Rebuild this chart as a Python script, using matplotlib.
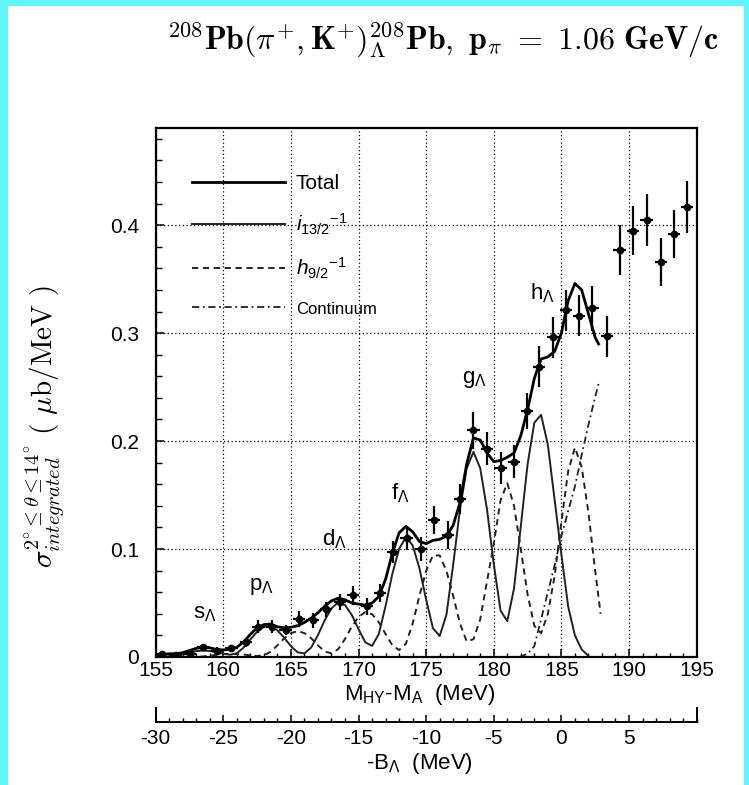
import matplotlib
matplotlib.use('Agg')
import matplotlib.pyplot as plt
from matplotlib.patches import Rectangle
from matplotlib.ticker import MultipleLocator, FixedLocator, FixedFormatter

plt.rcParams['font.family'] = ['Liberation Sans', 'DejaVu Sans']
plt.rcParams['mathtext.fontset'] = 'custom'
plt.rcParams['mathtext.rm'] = 'Liberation Sans'
plt.rcParams['mathtext.it'] = 'Liberation Sans:italic'
plt.rcParams['mathtext.bf'] = 'Liberation Sans:bold'
plt.rcParams['axes.unicode_minus'] = False

# ---------------- data ----------------
# measured points: M_HY - M_A (MeV), cross section (ub/MeV), error
exp_x = [155.5, 156.5, 157.5, 158.5, 159.55, 160.6, 161.65, 162.6, 163.6, 164.6,
         165.6, 166.6, 167.6, 168.6, 169.6, 170.6, 171.6, 172.55, 173.55, 174.6,
         175.6, 176.6, 177.5, 178.5, 179.5, 180.5, 181.5, 182.45, 183.35, 184.35,
         185.35, 186.3, 187.3, 188.35, 189.3, 190.3, 191.3, 192.35, 193.3, 194.3]
exp_y = [0.003, 0.002, 0.003, 0.009, 0.006, 0.008, 0.0136, 0.028, 0.028, 0.025,
         0.0355, 0.034, 0.044, 0.051, 0.057, 0.047, 0.0595, 0.0975, 0.110, 0.0997,
         0.127, 0.113, 0.146, 0.210, 0.193, 0.175, 0.181, 0.228, 0.269, 0.296,
         0.321, 0.316, 0.323, 0.297, 0.377, 0.395, 0.405, 0.366, 0.392, 0.417]
exp_err = [0.002, 0.002, 0.002, 0.003, 0.003, 0.003, 0.004, 0.006, 0.006, 0.005,
           0.0075, 0.0072, 0.007, 0.0075, 0.0085, 0.0078, 0.0083, 0.010, 0.011, 0.011,
           0.013, 0.013, 0.014, 0.017, 0.015, 0.015, 0.015, 0.017, 0.019, 0.019,
           0.019, 0.019, 0.021, 0.019, 0.023, 0.023, 0.024, 0.022, 0.022, 0.024]
bin_halfwidth = 0.45

# theory curves
total_x = [155.0, 155.5, 156.0, 156.5, 157.0, 157.5, 158.0, 158.5, 159.0, 159.5,
           160.0, 160.5, 161.0, 161.5, 162.0, 162.5, 163.0, 163.5, 164.0, 164.5,
           165.0, 165.5, 166.0, 166.5, 167.0, 167.5, 168.0, 168.5, 169.0, 169.5,
           170.0, 170.5, 171.0, 171.5, 172.0, 172.5, 173.0, 173.5, 174.0, 174.5,
           175.0, 175.5, 176.0, 176.5, 177.0, 177.5, 178.0, 178.5, 179.0, 179.5,
           180.0, 180.5, 181.0, 181.5, 182.0, 182.5, 183.0, 183.5, 184.0, 184.5,
           185.0, 185.5, 186.0, 186.5, 187.0, 187.5, 187.75]
total_y = [0.001, 0.002, 0.003, 0.003, 0.004, 0.006, 0.008, 0.009, 0.0085, 0.007,
           0.0065, 0.007, 0.009, 0.014, 0.021, 0.027, 0.030, 0.0305, 0.028, 0.027,
           0.0275, 0.029, 0.032, 0.036, 0.041, 0.047, 0.052, 0.0545, 0.053, 0.050,
           0.049, 0.048, 0.050, 0.056, 0.072, 0.096, 0.115, 0.121, 0.116, 0.107,
           0.105, 0.108, 0.109, 0.112, 0.122, 0.143, 0.179, 0.203, 0.201, 0.189,
           0.181, 0.182, 0.185, 0.189, 0.205, 0.229, 0.258, 0.276, 0.278, 0.283,
           0.300, 0.330, 0.346, 0.340, 0.318, 0.296, 0.290]

i13_x = [155.0, 155.5, 156.0, 156.5, 157.0, 157.5, 158.0, 158.5, 159.0, 159.5,
         160.0, 160.5, 161.0, 161.5, 162.0, 162.5, 163.0, 163.5, 164.0, 164.5,
         165.0, 165.5, 166.0, 166.5, 167.0, 167.5, 168.0, 168.5, 169.0, 169.5,
         170.0, 170.5, 171.0, 171.5, 172.0, 172.5, 173.0, 173.5, 174.0, 174.5,
         175.0, 175.5, 176.0, 176.5, 177.0, 177.5, 178.0, 178.5, 179.0, 179.5,
         180.0, 180.5, 181.0, 181.5, 182.0, 182.5, 183.0, 183.5, 184.0, 184.5,
         185.0, 185.5, 186.0, 186.5, 187.0]
i13_y = [0.0, 0.0, 0.0003, 0.0011, 0.0025, 0.0042, 0.0054, 0.006, 0.0056, 0.0045,
         0.003, 0.0021, 0.0035, 0.0087, 0.0163, 0.0234, 0.0281, 0.0285, 0.0246, 0.0179,
         0.010, 0.0043, 0.0034, 0.0088, 0.0203, 0.0341, 0.0451, 0.0506, 0.0481, 0.039,
         0.0258, 0.0136, 0.0103, 0.0213, 0.0472, 0.077, 0.1001, 0.111, 0.1035, 0.0824,
         0.0531, 0.0268, 0.0194, 0.0393, 0.0856, 0.1368, 0.1748, 0.190, 0.1748, 0.1368,
         0.0862, 0.043, 0.0332, 0.0636, 0.1212, 0.1784, 0.217, 0.2243, 0.1966, 0.1457,
         0.095, 0.047, 0.020, 0.007, 0.001]

h9_x = [157.5, 158.0, 158.5, 159.0, 159.5, 160.0, 160.5, 161.0, 161.5, 162.0,
        162.5, 163.0, 163.5, 164.0, 164.5, 165.0, 165.5, 166.0, 166.5, 167.0,
        167.5, 168.0, 168.5, 169.0, 169.5, 170.0, 170.5, 171.0, 171.5, 172.0,
        172.5, 173.0, 173.5, 174.0, 174.5, 175.0, 175.5, 176.0, 176.5, 177.0,
        177.5, 178.0, 178.5, 179.0, 179.5, 180.0, 180.5, 181.0, 181.5, 182.0,
        182.5, 183.0, 183.5, 184.0, 184.5, 185.0, 185.5, 186.0, 186.5, 187.0,
        187.5, 187.9]
h9_y = [0.0, 0.0001, 0.0005, 0.0012, 0.002, 0.0027, 0.003, 0.0028, 0.0023, 0.0015,
        0.0009, 0.0017, 0.0048, 0.0108, 0.0173, 0.0221, 0.024, 0.0221, 0.0173, 0.0108,
        0.0051, 0.0034, 0.0073, 0.0167, 0.0281, 0.0371, 0.0417, 0.0396, 0.0321, 0.0213,
        0.0109, 0.0064, 0.0123, 0.0308, 0.0566, 0.0797, 0.0941, 0.0941, 0.0797, 0.0566,
        0.031, 0.0144, 0.0165, 0.035, 0.070, 0.105, 0.145, 0.161, 0.140, 0.100,
        0.058, 0.029, 0.022, 0.040, 0.075, 0.125, 0.172, 0.194, 0.176, 0.134,
        0.080, 0.040]

cont_x = [181.9, 182.5, 183.0, 183.5, 184.0, 184.5, 185.0, 185.5, 186.0, 186.5,
          187.0, 187.5, 187.75]
cont_y = [0.0, 0.003, 0.010, 0.035, 0.060, 0.085, 0.112, 0.135, 0.158, 0.187,
          0.215, 0.241, 0.253]

shell_labels = [r's$_{\Lambda}$', r'p$_{\Lambda}$', r'd$_{\Lambda}$',
                r'f$_{\Lambda}$', r'g$_{\Lambda}$', r'h$_{\Lambda}$']
shell_x = [158.6, 162.8, 168.2, 173.1, 178.6, 183.6]
shell_y = [0.040, 0.065, 0.109, 0.152, 0.257, 0.337]

legend_labels = ['Total', r'$i_{13/2}$$^{-1}$', r'$h_{9/2}$$^{-1}$', 'Continuum']

x_ticks = [155, 160, 165, 170, 175, 180, 185, 190, 195]
y_ticks = [0.0, 0.1, 0.2, 0.3, 0.4]
y_ticklabels = ['0', '0.1', '0.2', '0.3', '0.4']
b_ticks = [-30, -25, -20, -15, -10, -5, 0, 5]
b_ticklabels = ['-30', '-25', '-20', '-15', '-10', '-5', '0', '5']

# ---------------- figure ----------------
W_PX, H_PX = 749, 785
fig = plt.figure(figsize=(W_PX / 100, H_PX / 100), dpi=100)
fig.patch.set_facecolor('white')
cyan = '#5ff5fb'
fig.add_artist(Rectangle((0, 0), 8 / W_PX, 1, transform=fig.transFigure,
                         facecolor=cyan, edgecolor='none'))
fig.add_artist(Rectangle((0, 1 - 6 / H_PX), 1, 6 / H_PX, transform=fig.transFigure,
                         facecolor=cyan, edgecolor='none'))
fig.add_artist(Rectangle((1 - 5 / W_PX, 0), 5 / W_PX, 1, transform=fig.transFigure,
                         facecolor=cyan, edgecolor='none'))

L = 155.7 / W_PX
Wd = 540.9 / W_PX
B = 1 - 657 / H_PX
Ht = 529 / H_PX
ax = fig.add_axes([L, B, Wd, Ht])
ax.set_xlim(155, 195)
ax.set_ylim(0, 0.49)

dot = (0, (1, 2))
ax.grid(True, which='major', color='black', linestyle=dot, linewidth=0.9)
ax.set_axisbelow(True)

l_i13, = ax.plot(i13_x, i13_y, color='#222222', lw=1.4)
l_h9, = ax.plot(h9_x, h9_y, color='#222222', lw=1.4, linestyle=(0, (3.2, 2.4)))
l_cont, = ax.plot(cont_x, cont_y, color='#222222', lw=1.3,
                  linestyle=(0, (4, 2, 1, 2)))
l_tot, = ax.plot(total_x, total_y, color='black', lw=2.0)

ax.errorbar(exp_x, exp_y, yerr=exp_err, xerr=bin_halfwidth, fmt='o', ms=4.5,
            color='black', ecolor='black', elinewidth=1.6, capsize=0, zorder=5)

for lab, sx, sy in zip(shell_labels, shell_x, shell_y):
    ax.text(sx, sy, lab, fontsize=16, ha='center', va='center')

leg = ax.legend([l_tot, l_i13, l_h9, l_cont], legend_labels,
                loc='upper left', bbox_to_anchor=(0.047, 0.933),
                frameon=False, fontsize=15, handlelength=4.5,
                handletextpad=0.5, labelspacing=0.9, borderpad=0)
leg.get_texts()[3].set_fontsize(12)

for s in ax.spines.values():
    s.set_linewidth(1.6)

ax.set_xticks(x_ticks)
ax.xaxis.set_minor_locator(MultipleLocator(1))
ax.yaxis.set_major_locator(FixedLocator(y_ticks))
ax.yaxis.set_major_formatter(FixedFormatter(y_ticklabels))
ax.yaxis.set_minor_locator(MultipleLocator(0.02))
ax.tick_params(axis='x', which='major', direction='in', length=6, width=1.1,
               labelsize=15, pad=3)
ax.tick_params(axis='x', which='minor', direction='in', length=3, width=1)
ax.tick_params(axis='y', which='major', direction='in', length=6, width=1.1,
               labelsize=15, pad=12)
ax.tick_params(axis='y', which='minor', direction='in', length=4, width=1)

ax.set_xlabel(r'M$_{\mathrm{HY}}$-M$_{\mathrm{A}}$  (MeV)', fontsize=16, va='center')
ax.xaxis.set_label_coords(0.488, -0.07)
ax.set_ylabel(r'$\sigma^{2^{\circ}\leq\theta\leq14^{\circ}}_{integrated}\ (\ \mu\mathrm{b/MeV}\ )$',
              fontsize=21, math_fontfamily='cm', va='center')
ax.yaxis.set_label_coords(-0.205, 0.435)

# binding energy axis
ax2 = fig.add_axes([L, 1 - 722 / H_PX, Wd, 14 / H_PX])
ax2.set_xlim(-30, 10)
ax2.set_ylim(0, 1)
ax2.patch.set_alpha(0)
ax2.spines['top'].set_visible(False)
for s in ax2.spines.values():
    s.set_linewidth(1.4)
ax2.set_yticks([])
ax2.xaxis.set_major_locator(FixedLocator(b_ticks))
ax2.xaxis.set_major_formatter(FixedFormatter(b_ticklabels))
ax2.xaxis.set_minor_locator(MultipleLocator(1))
ax2.tick_params(axis='x', which='major', direction='in', length=5, width=1.1,
                labelsize=15, pad=5)
ax2.tick_params(axis='x', which='minor', direction='in', length=3, width=1)
ax2.set_xlabel(r'-B$_{\Lambda}$  (MeV)', fontsize=16, va='center')
ax2.xaxis.set_label_coords(0.488, -3.0)

title = (r'$^{208}\mathbf{Pb}(\pi^{+}\mathbf{,K}^{+})^{208}_{\Lambda}'
         r'\mathbf{Pb,\ p}_{\pi}\ \mathbf{=\ 1.06\ GeV/c}$')
fig.text(443 / W_PX, 1 - 40 / H_PX, title, fontsize=23, math_fontfamily='cm',
         ha='center', va='center')

fig.savefig('out.png', dpi=100)
